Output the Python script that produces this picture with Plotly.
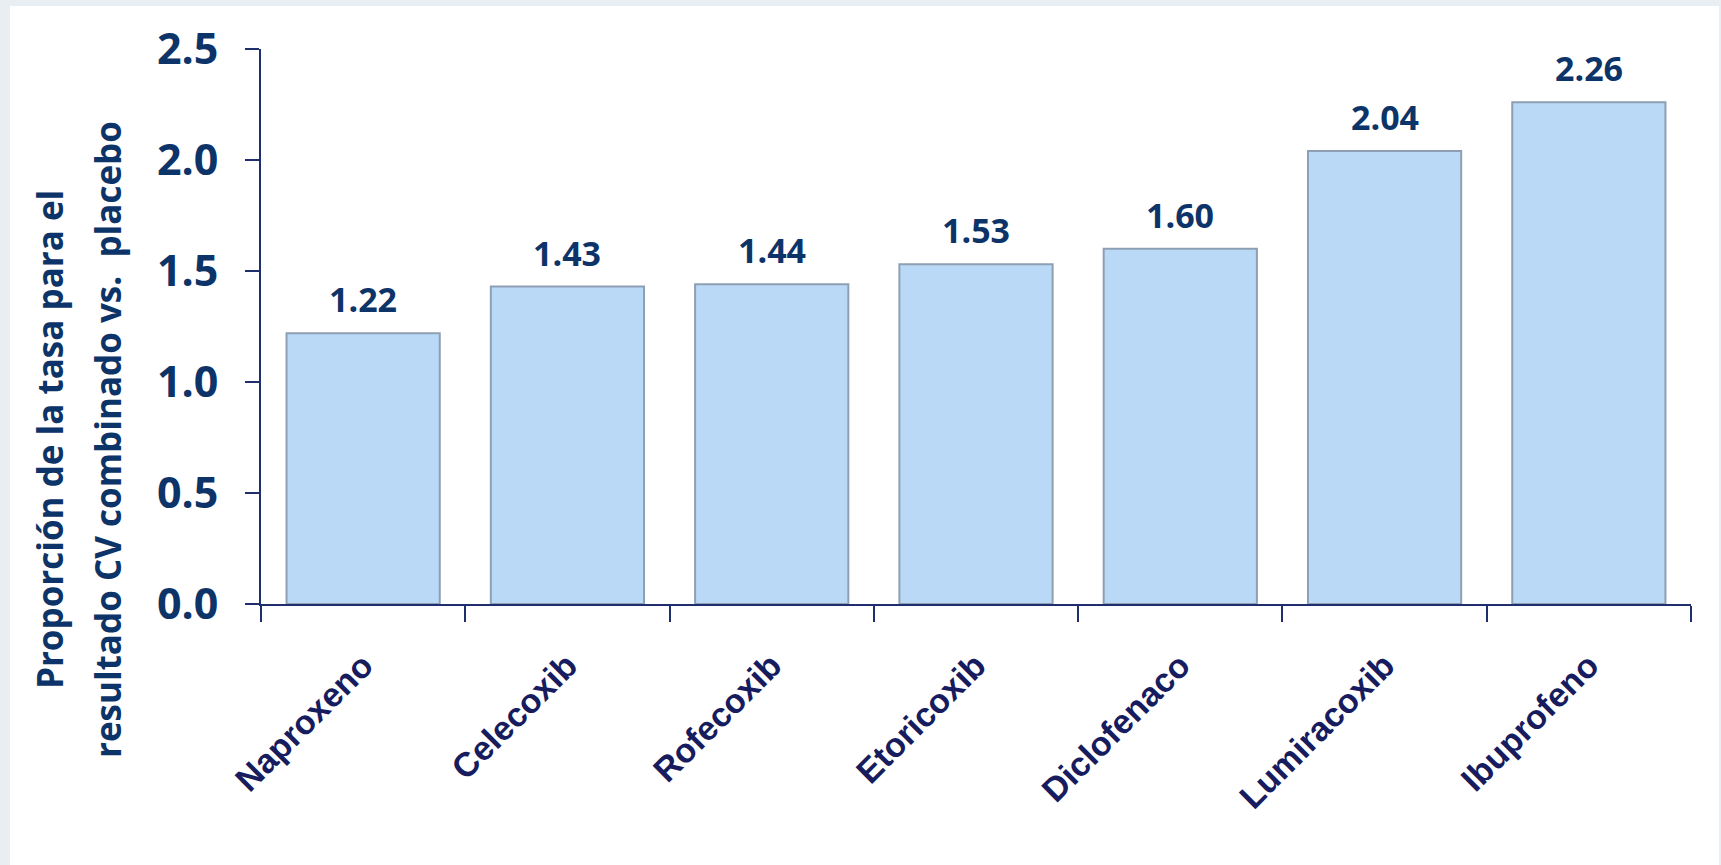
import plotly.graph_objects as go

# ---- data ----
drugs = ["Naproxeno", "Celecoxib", "Rofecoxib", "Etoricoxib", "Diclofenaco", "Lumiracoxib", "Ibuprofeno"]
ratios = [1.22, 1.43, 1.44, 1.53, 1.60, 2.04, 2.26]
ytick_vals = [0.0, 0.5, 1.0, 1.5, 2.0, 2.5]
ytick_text = ["0.0", "0.5", "1.0", "1.5", "2.0", "2.5"]
title_line1 = "Proporción de la tasa para el"
title_line2 = "resultado CV combinado vs.&nbsp; placebo"

# ---- layout constants (pixels) ----
W, H = 1721, 865
ML, MR, MT, MB = 261, 30, 49, 261
PW, PH = W - ML - MR, H - MT - MB

NAVY = "#0d3468"
LABEL_NAVY = "#161c5e"
AXIS = "#1f2f6e"


def px_to_paper_x(px):
    return (px - ML) / PW


def px_to_paper_y(py):
    return (H - MB - py) / PH


fig = go.Figure()
fig.add_trace(go.Bar(
    x=drugs,
    y=ratios,
    marker=dict(color="#bad9f6", line=dict(color="#8e9fb4", width=2)),
    width=0.75,
    showlegend=False,
    hoverinfo="x+y",
))

annotations = []
for d, v in zip(drugs, ratios):
    annotations.append(dict(
        x=d, y=v, xref="x", yref="y", text=f"{v:.2f}", showarrow=False,
        yanchor="bottom", yshift=9,
        font=dict(family="Open Sans", size=34, color=NAVY, weight="bold"),
    ))

for txt, cx in ((title_line1, 49), (title_line2, 107)):
    annotations.append(dict(
        x=px_to_paper_x(cx), y=px_to_paper_y(440), xref="paper", yref="paper",
        text=txt, showarrow=False, textangle=-90,
        xanchor="center", yanchor="middle",
        font=dict(family="Open Sans", size=35, color=NAVY, weight="bold"),
    ))

shapes = [
    dict(type="rect", xref="paper", yref="paper", layer="below",
         x0=px_to_paper_x(10), x1=px_to_paper_x(1719),
         y0=px_to_paper_y(H), y1=px_to_paper_y(6),
         fillcolor="white", line=dict(width=0)),
]

fig.update_layout(
    width=W, height=H,
    margin=dict(l=ML, r=MR, t=MT, b=MB, autoexpand=False),
    paper_bgcolor="#e9eef3",
    plot_bgcolor="white",
    annotations=annotations,
    shapes=shapes,
    bargap=0.25,
)

fig.update_xaxes(
    showline=True, linecolor=AXIS, linewidth=2,
    ticks="outside", ticklen=16, tickwidth=2, tickcolor=AXIS,
    tickson="boundaries",
    tickangle=-45,
    tickfont=dict(family="Liberation Sans", size=34, color=LABEL_NAVY, weight="bold"),
    ticklabelstandoff=26,
    showgrid=False, zeroline=False,
)
fig.update_yaxes(
    range=[0, 2.5],
    tickvals=ytick_vals, ticktext=ytick_text,
    showline=True, linecolor=AXIS, linewidth=2,
    ticks="outside", ticklen=14, tickwidth=2, tickcolor=AXIS,
    tickfont=dict(family="Open Sans", size=43, color=NAVY, weight="bold"),
    ticklabelstandoff=18,
    showgrid=False, zeroline=False,
)

fig.write_html(
    "out.html",
    config={"displayModeBar": False},
    post_script="document.body.style.margin='0';document.body.style.padding='0';document.body.style.overflow='hidden';",
)
